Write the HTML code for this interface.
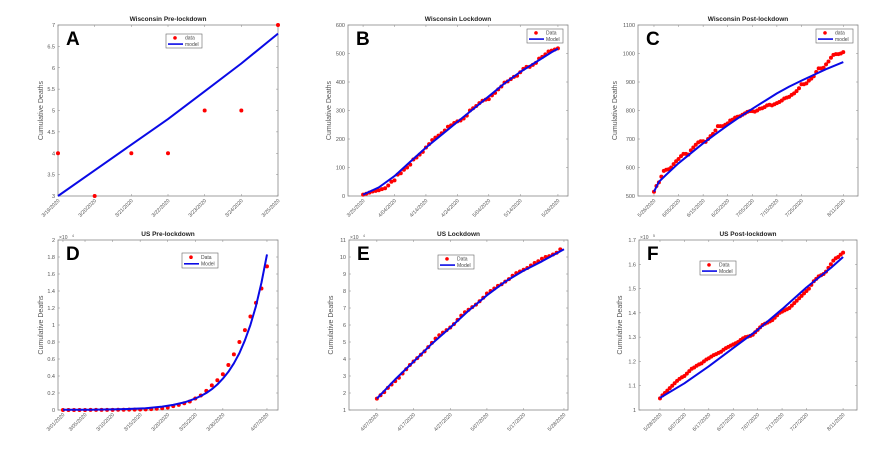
<!DOCTYPE html>
<html><head><meta charset="utf-8"><style>
html,body{margin:0;padding:0;background:#fff;width:869px;height:449px;overflow:hidden}
svg{display:block;font-family:"Liberation Sans",sans-serif}
</style></head><body>
<svg id="fig" width="869" height="449" viewBox="0 0 869 449" xmlns="http://www.w3.org/2000/svg"></svg>
<script>
// Panel A: Wisconsin pre-lockdown
const aData=[4,3,4,4,5,5,7];
const aModel=[3,3.6,4.2,4.8,5.45,6.1,6.8];
const aModelDays=[0,1,2,3,4,5,6];
const aTickDays=[0,1,2,3,4,5,6];
const aTickLabels=["3/19/2020","3/20/2020","3/21/2020","3/22/2020","3/23/2020","3/24/2020","3/25/2020"];
// Panel B: Wisconsin lockdown
const bData=[5,8,12,16,18,20,24,27,37,50,55,75,80,92,100,110,128,135,145,155,170,182,196,205,212,220,230,243,248,256,262,265,272,282,300,308,316,326,334,338,340,353,362,374,384,398,402,410,418,422,434,446,453,453,460,467,482,488,497,507,510,514,518];
const bModel=[5,30,70,120,170,215,260,305,350,395,435,470,505,517];
const bModelDays=[0,5,10,15,20,25,30,35,40,45,50,55,60,62];
const bTickDays=[0,10,20,30,40,50,62];
const bTickLabels=["3/25/2020","4/04/2020","4/14/2020","4/24/2020","5/04/2020","5/14/2020","5/26/2020"];
// Panel C: Wisconsin post-lockdown
const cData=[515,535,548,568,588,592,594,600,612,622,630,640,648,648,645,660,670,680,688,692,692,690,700,710,718,730,745,745,745,750,755,765,768,775,778,780,785,790,795,798,798,796,800,806,808,812,818,820,818,822,826,830,835,842,845,848,855,860,868,878,892,892,895,905,912,920,935,948,948,950,962,972,985,995,998,998,1000,1005];
const cModel=[515,550,575,615,650,685,717,748,778,806,833,860,884,905,925,945,970];
const cModelDays=[0,2,5,10,15,20,25,30,35,40,45,50,55,60,65,70,77];
const cTickDays=[0,10,20,30,40,50,60,77];
const cTickLabels=["5/26/2020","6/05/2020","6/15/2020","6/25/2020","7/05/2020","7/15/2020","7/25/2020","8/11/2020"];
// Panel D: US pre-lockdown (x10^4)
const dData=[0.0002,0.0003,0.0004,0.0005,0.0007,0.0009,0.001,0.0012,0.0015,0.002,0.0025,0.003,0.004,0.005,0.006,0.008,0.01,0.015,0.02,0.03,0.045,0.06,0.08,0.10,0.135,0.17,0.225,0.29,0.35,0.42,0.53,0.655,0.80,0.94,1.10,1.26,1.43,1.69];
const dModel=[0.002,0.004,0.008,0.02,0.04,0.06,0.075,0.09,0.11,0.135,0.165,0.20,0.245,0.30,0.37,0.45,0.55,0.67,0.82,1.0,1.22,1.5,1.83];
const dModelDays=[0,5,10,15,18,20,21,22,23,24,25,26,27,28,29,30,31,32,33,34,35,36,37];
const dTickDays=[0,4,9,14,19,24,29,37];
const dTickLabels=["3/01/2020","3/05/2020","3/10/2020","3/15/2020","3/20/2020","3/25/2020","3/30/2020","4/07/2020"];
// Panel E: US lockdown (x10^4)
const eData=[1.67,1.87,2.05,2.3,2.5,2.7,2.9,3.15,3.4,3.65,3.85,4.05,4.25,4.45,4.7,4.95,5.2,5.4,5.55,5.7,5.85,6.05,6.3,6.55,6.75,6.9,7.05,7.2,7.4,7.6,7.85,8.0,8.15,8.3,8.4,8.55,8.7,8.9,9.05,9.15,9.25,9.35,9.5,9.65,9.75,9.9,10.0,10.05,10.15,10.25,10.45];
const eModel=[1.67,2.8,3.85,4.9,5.85,6.85,7.75,8.55,9.2,9.75,10.1,10.45];
const eModelDays=[0,5,10,15,20,25,30,35,40,45,48,51];
const eTickDays=[0,10,20,30,40,51];
const eTickLabels=["4/07/2020","4/17/2020","4/27/2020","5/07/2020","5/17/2020","5/28/2020"];
// Panel F: US post-lockdown (x10^5)
const fData=[1.048,1.06,1.07,1.08,1.09,1.10,1.11,1.12,1.128,1.135,1.14,1.15,1.16,1.17,1.175,1.182,1.188,1.192,1.2,1.208,1.213,1.22,1.226,1.23,1.235,1.24,1.248,1.255,1.26,1.265,1.27,1.275,1.28,1.288,1.295,1.3,1.302,1.305,1.31,1.32,1.33,1.34,1.35,1.355,1.36,1.365,1.37,1.38,1.39,1.4,1.405,1.41,1.415,1.42,1.43,1.44,1.45,1.46,1.47,1.48,1.49,1.5,1.515,1.53,1.54,1.55,1.555,1.56,1.57,1.585,1.6,1.615,1.625,1.63,1.64,1.648];
const fModel=[1.05,1.11,1.18,1.255,1.33,1.415,1.505,1.585,1.63];
const fModelDays=[0,10,20,30,40,50,60,70,75];
const fTickDays=[0,10,20,30,40,50,60,75];
const fTickLabels=["5/28/2020","6/07/2020","6/17/2020","6/27/2020","7/07/2020","7/17/2020","7/27/2020","8/11/2020"];

const NS="http://www.w3.org/2000/svg";
const fig=document.getElementById('fig');
function mk(tag,attrs,parent,text){const e=document.createElementNS(NS,tag);for(const k in attrs)e.setAttribute(k,attrs[k]);if(text!==undefined)e.textContent=text;(parent||fig).appendChild(e);return e;}

const panels=[
 {id:'a',L:'A',title:'Wisconsin Pre-lockdown',box:[58,25,278,196],xd:[0,6],yd:[3,7],yt:[3,3.5,4,4.5,5,5.5,6,6.5,7],data:aData,model:aModel,md:aModelDays,td:aTickDays,tl:aTickLabels,leg:[166,34,36,14],ln:['data','model'],exp:null,ylx:43},
 {id:'b',L:'B',title:'Wisconsin Lockdown',box:[348,25,568,196],xd:[-4.8,65.2],yd:[0,600],yt:[0,100,200,300,400,500,600],data:bData,model:bModel,md:bModelDays,td:bTickDays,tl:bTickLabels,leg:[527,29,36,14],ln:['Data','Model'],exp:null,ylx:331},
 {id:'c',L:'C',title:'Wisconsin Post-lockdown',box:[638,25,858,196],xd:[-6.5,83],yd:[500,1100],yt:[500,600,700,800,900,1000,1100],data:cData,model:cModel,md:cModelDays,td:cTickDays,tl:cTickLabels,leg:[816,29,37,14],ln:['data','model'],exp:null,ylx:617},
 {id:'d',L:'D',title:'US Pre-lockdown',box:[58,240,278,410],xd:[-0.9,39],yd:[0,2],yt:[0,0.2,0.4,0.6,0.8,1,1.2,1.4,1.6,1.8,2],data:dData,model:dModel,md:dModelDays,td:dTickDays,tl:dTickLabels,leg:[182,253,36,15],ln:['Data','Model'],exp:'4',ylx:43},
 {id:'e',L:'E',title:'US Lockdown',box:[349,240,568,410],xd:[-7.6,52.1],yd:[1,11],yt:[1,2,3,4,5,6,7,8,9,10,11],data:eData,model:eModel,md:eModelDays,td:eTickDays,tl:eTickLabels,leg:[438,255,36,14],ln:['Data','Model'],exp:'4',ylx:333},
 {id:'f',L:'F',title:'US Post-lockdown',box:[639,240,857,410],xd:[-8.6,80.7],yd:[1,1.7],yt:[1,1.1,1.2,1.3,1.4,1.5,1.6,1.7],data:fData,model:fModel,md:fModelDays,td:fTickDays,tl:fTickLabels,leg:[700,261,36,14],ln:['Data','Model'],exp:'5',ylx:622}
];

panels.forEach(p=>{
 const [x0,y0,x1,y1]=p.box;
 const g=mk('g',{});
 
 
 const sx=d=>x0+(d-p.xd[0])/(p.xd[1]-p.xd[0])*(x1-x0);
 const sy=v=>y1-(v-p.yd[0])/(p.yd[1]-p.yd[0])*(y1-y0);
 const ax=mk('rect',{x:x0,y:y0,width:x1-x0,height:y1-y0,fill:'#fff',stroke:'#888','stroke-width':0.8},g);
 
 
 const t=mk('text',{x:(x0+x1)/2,y:y0-4,'font-size':6.5,'font-weight':'bold','text-anchor':'middle',fill:'#222'},g,p.title);
 
 
 p.yt.forEach(v=>{
  const y=sy(v);
  mk('line',{x1:x0,x2:x0+2,y1:y,y2:y,stroke:'#888','stroke-width':0.5},g);
  mk('line',{x1:x1,x2:x1-2,y1:y,y2:y,stroke:'#888','stroke-width':0.5},g);
  const l=mk('text',{x:x0-3,y:y+2,'font-size':5.5,'text-anchor':'end',fill:'#555'},g,String(Math.round(v*100)/100));
  
  
 });
 if(p.exp){const e=mk('text',{x:x0+1,y:y0-1,'font-size':5,fill:'#555'},g,'\u00d710');
  
  
  mk('text',{x:x0+14,y:y0-3,'font-size':3.5,fill:'#555'},g,p.exp);}
 p.td.forEach((d,i)=>{
  const x=sx(d);
  mk('line',{x1:x,x2:x,y1:y1,y2:y1-2,stroke:'#888','stroke-width':0.5},g);
  mk('line',{x1:x,x2:x,y1:y0,y2:y0+2,stroke:'#888','stroke-width':0.5},g);
  const l=mk('text',{x:x+2,y:y1+5,'font-size':5.2,'text-anchor':'end',fill:'#555',transform:`rotate(-45 ${x+2} ${y1+5})`},g,p.tl[i]);
  
  
 });
 const yl=mk('text',{x:p.ylx,y:(y0+y1)/2,'font-size':7,'text-anchor':'middle',fill:'#555',transform:`rotate(-90 ${p.ylx} ${(y0+y1)/2})`},g,'Cumulative Deaths');
 
 
 p.data.forEach((v,i)=>{
  const c=mk('circle',{cx:sx(i),cy:sy(v),r:2,fill:'#ff0000'},g);
  
  
 });
 const pts=p.model.map((v,i)=>sx(p.md[i]).toFixed(1)+','+sy(v).toFixed(1)).join(' ');
 const ml=mk('polyline',{points:pts,fill:'none',stroke:'#0a0ae6','stroke-width':2,'stroke-linejoin':'round'},g);
 
 
 const [lx,ly,lw,lh]=p.leg;
 const lg=mk('g',{},g);
 
 
 mk('rect',{x:lx,y:ly,width:lw,height:lh,fill:'#fff',stroke:'#666','stroke-width':0.6},lg);
 mk('circle',{cx:lx+9,cy:ly+lh*0.28,r:1.8,fill:'#ff0000'},lg);
 mk('text',{x:lx+19,y:ly+lh*0.28+1.8,'font-size':5,fill:'#444'},lg,p.ln[0]);
 mk('line',{x1:lx+2,x2:lx+17,y1:ly+lh*0.72,y2:ly+lh*0.72,stroke:'#0a0ae6','stroke-width':1.6},lg);
 mk('text',{x:lx+19,y:ly+lh*0.72+1.8,'font-size':5,fill:'#444'},lg,p.ln[1]);
 const L=mk('text',{x:x0+8,y:y0+20,'font-size':19,'font-weight':'bold',fill:'#000'},g,p.L);
 
 
});
</script>
</body></html>
